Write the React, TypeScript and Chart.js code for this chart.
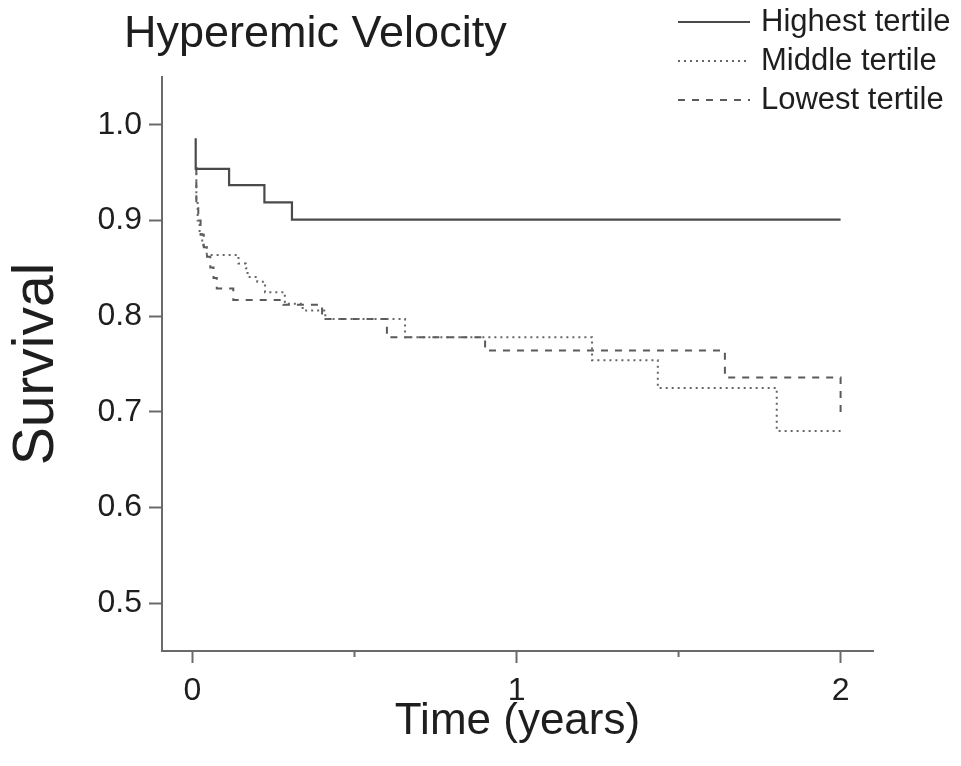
import { useEffect, useRef } from 'react';
import { Chart, registerables } from 'chart.js';

Chart.register(...registerables);

// ---- data ----
const titleText = 'Hyperemic Velocity';
const xTitle = 'Time (years)';
const yTitle = 'Survival';
const seriesNames = ['Highest tertile', 'Middle tertile', 'Lowest tertile'];

const highTimes = [0.01, 0.01, 0.113, 0.222, 0.307, 2.0];
const highSurv = [0.986, 0.954, 0.937, 0.919, 0.901, 0.901];

const midTimes = [0.01, 0.012, 0.016, 0.022, 0.03, 0.044, 0.142, 0.165, 0.17, 0.2, 0.224, 0.285, 0.34, 0.41, 0.656, 1.233, 1.436, 1.803, 2.0];
const midSurv = [0.955, 0.92, 0.9, 0.886, 0.874, 0.864, 0.855, 0.85, 0.841, 0.836, 0.825, 0.813, 0.806, 0.797, 0.778, 0.754, 0.725, 0.68, 0.68];

const lowTimes = [0.01, 0.012, 0.018, 0.025, 0.035, 0.045, 0.055, 0.065, 0.075, 0.126, 0.28, 0.4, 0.6, 0.903, 1.643, 2.0];
const lowSurv = [0.955, 0.92, 0.9, 0.885, 0.872, 0.862, 0.851, 0.84, 0.829, 0.817, 0.812, 0.797, 0.778, 0.764, 0.736, 0.698];

const yTicks = [0.5, 0.6, 0.7, 0.8, 0.9, 1.0];
const xTicks = [0, 1, 2];
const xMinorTicks = [0.5, 1.5];

const FONT = '"Liberation Sans", Arial, sans-serif';
const axisColor = '#6a6a6a';
const textColor = '#1e1e1e';
const lineColors = ['#4a4a4a', '#666666', '#5a5a5a'];
const lineDashes: number[][] = [[], [2, 4], [7, 7]];
const lineWidths = [2.2, 2, 2];

const toPoints = (t: number[], s: number[]) => t.map((x, i) => ({ x, y: s[i] }));

const textPlugin = {
  id: 'extraTexts',
  afterDraw(chart: any) {
    const { ctx, chartArea, scales } = chart;
    ctx.save();
    // minor ticks on x axis
    ctx.strokeStyle = axisColor;
    ctx.lineWidth = 2;
    xMinorTicks.forEach((v) => {
      const px = scales.x.getPixelForValue(v);
      ctx.beginPath();
      ctx.moveTo(px, chartArea.bottom);
      ctx.lineTo(px, chartArea.bottom + 6);
      ctx.stroke();
    });
    ctx.fillStyle = textColor;
    // title
    ctx.font = `45px ${FONT}`;
    ctx.textAlign = 'left';
    ctx.textBaseline = 'middle';
    ctx.fillText(titleText, 124, 35);
    // x title
    ctx.font = `44px ${FONT}`;
    ctx.textAlign = 'center';
    ctx.fillText(xTitle, (chartArea.left + chartArea.right) / 2, 722);
    // y title
    ctx.save();
    ctx.font = `57px ${FONT}`;
    ctx.translate(37, (chartArea.top + chartArea.bottom) / 2);
    ctx.rotate(-Math.PI / 2);
    ctx.fillText(yTitle, 0, 0);
    ctx.restore();
    // legend
    const rows = [22, 61, 100];
    seriesNames.forEach((name, i) => {
      ctx.save();
      ctx.strokeStyle = lineColors[i];
      ctx.lineWidth = lineWidths[i];
      ctx.setLineDash(lineDashes[i]);
      ctx.beginPath();
      ctx.moveTo(678, rows[i]);
      ctx.lineTo(750, rows[i]);
      ctx.stroke();
      ctx.restore();
      ctx.font = `31px ${FONT}`;
      ctx.textAlign = 'left';
      ctx.fillStyle = textColor;
      ctx.fillText(name, 761, rows[i]);
    });
    ctx.restore();
  },
};

export default function App() {
  const ref = useRef<HTMLCanvasElement>(null);
  useEffect(() => {
    if (!ref.current) return;
    const series = [
      toPoints(highTimes, highSurv),
      toPoints(midTimes, midSurv),
      toPoints(lowTimes, lowSurv),
    ];
    const chart = new Chart(ref.current, {
      type: 'line',
      data: {
        datasets: series.map((data, i) => ({
          label: seriesNames[i],
          data,
          stepped: true,
          borderColor: lineColors[i],
          borderWidth: lineWidths[i],
          borderDash: lineDashes[i],
          pointRadius: 0,
          fill: false,
        })),
      },
      options: {
        responsive: false,
        animation: false,
        devicePixelRatio: 1,
        layout: { padding: { top: 77, right: 88, left: 0, bottom: 0 } },
        plugins: {
          legend: { display: false },
          tooltip: { enabled: false },
          title: { display: false },
        },
        scales: {
          x: {
            type: 'linear',
            min: -0.094,
            max: 2.1,
            afterBuildTicks: (s: any) => {
              s.ticks = xTicks.map((v) => ({ value: v }));
            },
            afterFit: (s: any) => {
              s.height = 115;
            },
            grid: {
              drawOnChartArea: false,
              drawTicks: true,
              tickLength: 12,
              tickWidth: 2,
              tickColor: axisColor,
            },
            border: { display: true, color: axisColor, width: 2 },
            ticks: {
              font: { family: FONT, size: 32 },
              color: textColor,
              padding: 9,
              maxRotation: 0,
              autoSkip: false,
              callback: (v: any) => String(v),
            },
          },
          y: {
            type: 'linear',
            min: 0.45,
            max: 1.05,
            afterBuildTicks: (s: any) => {
              s.ticks = yTicks.map((v) => ({ value: v }));
            },
            afterFit: (s: any) => {
              s.width = 162;
            },
            grid: {
              drawOnChartArea: false,
              drawTicks: true,
              tickLength: 13,
              tickWidth: 2,
              tickColor: axisColor,
            },
            border: { display: true, color: axisColor, width: 2 },
            ticks: {
              font: { family: FONT, size: 32 },
              color: textColor,
              padding: 7,
              autoSkip: false,
              callback: (v: any) => Number(v).toFixed(1),
            },
          },
        },
      },
      plugins: [textPlugin],
    });
    return () => chart.destroy();
  }, []);
  return (
    <div style={{ position: 'absolute', left: 0, top: 0, width: 961, height: 766, background: '#fff' }}>
      <canvas ref={ref} width={961} height={766} style={{ width: 961, height: 766, display: 'block' }} />
    </div>
  );
}
